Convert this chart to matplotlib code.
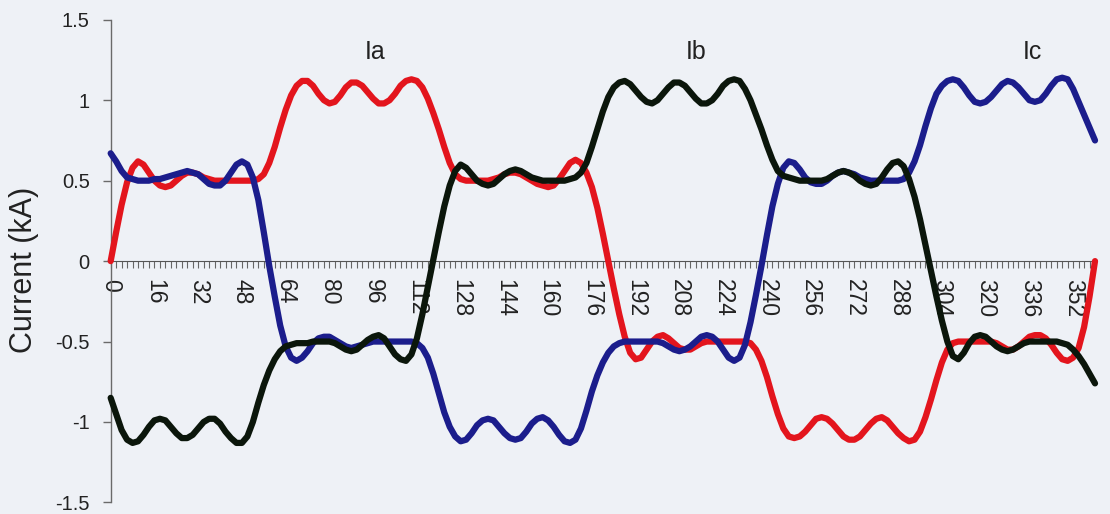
import numpy as np
import matplotlib
matplotlib.use('Agg')
from matplotlib import pyplot as plt
from matplotlib.ticker import MultipleLocator

plt.rcParams['font.family'] = ['Liberation Sans', 'DejaVu Sans']
plt.rcParams['axes.unicode_minus'] = False

# angle (deg), one sample every 2 deg
angle = np.arange(0, 361, 2)

# phase currents in kA (10 samples per row)
ia = [0.00, 0.18, 0.35, 0.49, 0.58, 0.62, 0.60, 0.55, 0.50, 0.47,
      0.46, 0.47, 0.50, 0.53, 0.55, 0.55, 0.54, 0.52, 0.51, 0.50,
      0.50, 0.50, 0.50, 0.50, 0.50, 0.50, 0.50, 0.51, 0.54, 0.61,
      0.71, 0.83, 0.94, 1.03, 1.09, 1.12, 1.12, 1.09, 1.04, 1.00,
      0.98, 0.99, 1.03, 1.08, 1.11, 1.11, 1.09, 1.05, 1.01, 0.98,
      0.98, 1.00, 1.04, 1.09, 1.12, 1.13, 1.12, 1.08, 1.01, 0.92,
      0.82, 0.71, 0.61, 0.54, 0.51, 0.50, 0.50, 0.50, 0.50, 0.50,
      0.51, 0.52, 0.54, 0.55, 0.55, 0.54, 0.52, 0.50, 0.48, 0.47,
      0.46, 0.47, 0.51, 0.56, 0.61, 0.63, 0.61, 0.55, 0.46, 0.33,
      0.17, 0.00, -0.17, -0.33, -0.47, -0.57, -0.61, -0.60, -0.55, -0.50,
      -0.47, -0.46, -0.48, -0.51, -0.54, -0.55, -0.55, -0.53, -0.51, -0.50,
      -0.50, -0.50, -0.50, -0.50, -0.50, -0.50, -0.50, -0.51, -0.55, -0.62,
      -0.72, -0.84, -0.95, -1.04, -1.09, -1.10, -1.09, -1.06, -1.02, -0.98,
      -0.97, -0.98, -1.01, -1.05, -1.09, -1.11, -1.11, -1.09, -1.05, -1.01,
      -0.98, -0.97, -0.99, -1.03, -1.07, -1.10, -1.12, -1.11, -1.06, -0.97,
      -0.86, -0.74, -0.63, -0.55, -0.51, -0.50, -0.50, -0.50, -0.50, -0.50,
      -0.50, -0.50, -0.51, -0.53, -0.55, -0.55, -0.53, -0.50, -0.47, -0.46,
      -0.46, -0.48, -0.52, -0.57, -0.61, -0.62, -0.60, -0.54, -0.41, -0.22,
      0.00]

ib = [-0.85, -0.95, -1.05, -1.11, -1.13, -1.12, -1.08, -1.03, -0.99, -0.98,
      -0.99, -1.03, -1.07, -1.10, -1.10, -1.08, -1.04, -1.00, -0.98, -0.98,
      -1.01, -1.06, -1.10, -1.13, -1.13, -1.09, -1.00, -0.88, -0.77, -0.68,
      -0.61, -0.56, -0.53, -0.52, -0.51, -0.51, -0.51, -0.50, -0.50, -0.50,
      -0.50, -0.51, -0.53, -0.55, -0.56, -0.55, -0.52, -0.49, -0.47, -0.46,
      -0.48, -0.53, -0.58, -0.61, -0.62, -0.58, -0.48, -0.33, -0.16, 0.01,
      0.18, 0.34, 0.47, 0.56, 0.60, 0.58, 0.54, 0.50, 0.48, 0.47,
      0.48, 0.51, 0.54, 0.56, 0.57, 0.56, 0.54, 0.52, 0.51, 0.50,
      0.50, 0.50, 0.50, 0.50, 0.51, 0.52, 0.55, 0.61, 0.71, 0.82,
      0.93, 1.02, 1.08, 1.11, 1.12, 1.10, 1.06, 1.02, 0.99, 0.98,
      1.00, 1.04, 1.08, 1.11, 1.11, 1.09, 1.05, 1.01, 0.98, 0.98,
      1.00, 1.04, 1.09, 1.12, 1.13, 1.12, 1.07, 1.00, 0.91, 0.82,
      0.72, 0.63, 0.56, 0.53, 0.52, 0.51, 0.50, 0.50, 0.50, 0.50,
      0.50, 0.51, 0.53, 0.55, 0.56, 0.55, 0.53, 0.50, 0.48, 0.47,
      0.48, 0.52, 0.57, 0.61, 0.62, 0.59, 0.51, 0.40, 0.26, 0.10,
      -0.06, -0.22, -0.37, -0.50, -0.59, -0.61, -0.57, -0.51, -0.47, -0.46,
      -0.47, -0.50, -0.53, -0.55, -0.56, -0.55, -0.53, -0.51, -0.50, -0.50,
      -0.50, -0.50, -0.50, -0.50, -0.51, -0.52, -0.55, -0.59, -0.64, -0.70,
      -0.76]

ic = [0.67, 0.62, 0.56, 0.52, 0.51, 0.50, 0.50, 0.50, 0.51, 0.51,
      0.52, 0.53, 0.54, 0.55, 0.56, 0.55, 0.54, 0.51, 0.48, 0.47,
      0.47, 0.50, 0.55, 0.60, 0.62, 0.60, 0.52, 0.38, 0.18, -0.03,
      -0.22, -0.40, -0.53, -0.60, -0.62, -0.60, -0.56, -0.51, -0.48, -0.47,
      -0.47, -0.49, -0.51, -0.53, -0.54, -0.53, -0.52, -0.51, -0.50, -0.50,
      -0.50, -0.50, -0.50, -0.50, -0.50, -0.50, -0.51, -0.54, -0.60, -0.70,
      -0.82, -0.94, -1.03, -1.09, -1.12, -1.11, -1.07, -1.02, -0.99, -0.98,
      -0.99, -1.03, -1.07, -1.10, -1.11, -1.10, -1.06, -1.01, -0.98, -0.97,
      -0.99, -1.03, -1.08, -1.12, -1.13, -1.11, -1.04, -0.93, -0.81, -0.71,
      -0.63, -0.57, -0.53, -0.51, -0.50, -0.50, -0.50, -0.50, -0.50, -0.50,
      -0.50, -0.51, -0.53, -0.55, -0.56, -0.55, -0.53, -0.50, -0.47, -0.46,
      -0.47, -0.50, -0.55, -0.60, -0.62, -0.60, -0.52, -0.38, -0.21, -0.03,
      0.16, 0.34, 0.48, 0.58, 0.62, 0.61, 0.57, 0.52, 0.49, 0.48,
      0.48, 0.50, 0.53, 0.55, 0.56, 0.55, 0.54, 0.52, 0.51, 0.50,
      0.50, 0.50, 0.50, 0.50, 0.50, 0.51, 0.55, 0.62, 0.72, 0.84,
      0.95, 1.04, 1.09, 1.12, 1.13, 1.12, 1.08, 1.03, 0.99, 0.98,
      0.99, 1.02, 1.06, 1.10, 1.12, 1.11, 1.08, 1.04, 1.00, 0.99,
      1.00, 1.04, 1.09, 1.13, 1.14, 1.13, 1.07, 0.99, 0.91, 0.83,
      0.75]

x_ticks = [0, 16, 32, 48, 64, 80, 96, 112, 128, 144, 160, 176,
           192, 208, 224, 240, 256, 272, 288, 304, 320, 336, 352]
y_ticks = [1.5, 1, 0.5, 0, -0.5, -1, -1.5]
y_labels = ['1.5', '1', '0.5', '0', '-0.5', '-1', '-1.5']

# curve names and where they sit
names = ['Ia', 'Ib', 'Ic']
name_x = [96.7, 214, 337]
name_y = [1.30, 1.30, 1.30]

bg = '#eef1f6'
fig = plt.figure(figsize=(11.1, 5.14), dpi=100, facecolor=bg)
ax = fig.add_axes([0.0997, 0.0225, 0.8868, 0.939])
ax.set_facecolor(bg)

lw = 4.5
ax.plot(angle, ia, color='#e3151d', lw=lw, zorder=3, clip_on=False,
        solid_capstyle='round', solid_joinstyle='round')
ax.plot(angle, ic, color='#1b1d8c', lw=lw, zorder=4, clip_on=False,
        solid_capstyle='round', solid_joinstyle='round')
ax.plot(angle, ib, color='#0b160b', lw=lw, zorder=5, clip_on=False,
        solid_capstyle='round', solid_joinstyle='round')

ax.set_xlim(0, 360)
ax.set_ylim(-1.5, 1.5)

for side in ['top', 'right']:
    ax.spines[side].set_visible(False)
ax.spines['bottom'].set_position(('data', 0))
ax.spines['bottom'].set_color('#555555')
ax.spines['left'].set_color('#6a6a6a')
ax.spines['left'].set_linewidth(1.0)

ax.set_xticks(x_ticks)
ax.set_xticklabels([str(t) for t in x_ticks])
ax.xaxis.set_minor_locator(MultipleLocator(2))
ax.tick_params(axis='x', which='both', direction='out', length=5,
               width=0.8, color='#666666')
ax.tick_params(axis='x', which='major', labelsize=16.5, labelrotation=-90,
               pad=8, labelcolor='#222222')

ax.set_yticks(y_ticks)
ax.set_yticklabels(y_labels)
ax.tick_params(axis='y', direction='out', length=6, width=1.0,
               color='#6a6a6a', labelsize=14.5, pad=9, labelcolor='#222222')

ax.set_ylabel('Current (kA)', fontsize=22, color='#222222')
ax.yaxis.set_label_coords(-0.073, 0.481)

for name, tx, ty in zip(names, name_x, name_y):
    ax.text(tx, ty, name, ha='center', va='center', fontsize=18,
            color='#222222')

fig.savefig('out.png', dpi=100, facecolor=bg)
